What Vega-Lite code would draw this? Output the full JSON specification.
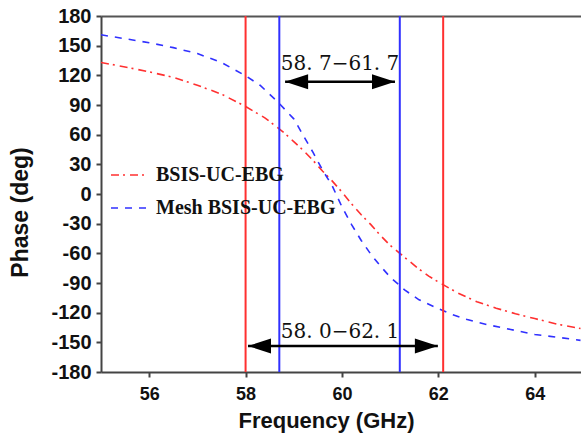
{
  "$schema": "https://vega.github.io/schema/vega-lite/v6.json",
  "width": 480,
  "height": 356,
  "autosize": {"type": "none"},
  "padding": {"left": 101, "top": 16, "right": 0, "bottom": 71},
  "background": "white",
  "config": {
    "view": {"stroke": null},
    "axis": {"grid": false, "domainColor": "#444", "domainWidth": 2, "tickColor": "#444", "tickWidth": 2, "tickSize": 5, "labelColor": "#111", "titleColor": "#111", "labelFont": "Liberation Sans", "titleFont": "Liberation Sans", "labelFontWeight": "bold", "titleFontWeight": "bold", "labelOverlap": false}
  },
  "datasets": {
    "curves": [
      {"freq": 55.0, "phase": 133, "series": "BSIS-UC-EBG"},
      {"freq": 55.5, "phase": 128.5, "series": "BSIS-UC-EBG"},
      {"freq": 56.0, "phase": 123.5, "series": "BSIS-UC-EBG"},
      {"freq": 56.5, "phase": 118, "series": "BSIS-UC-EBG"},
      {"freq": 57.0, "phase": 110, "series": "BSIS-UC-EBG"},
      {"freq": 57.5, "phase": 101, "series": "BSIS-UC-EBG"},
      {"freq": 58.0, "phase": 88.5, "series": "BSIS-UC-EBG"},
      {"freq": 58.4, "phase": 77, "series": "BSIS-UC-EBG"},
      {"freq": 58.8, "phase": 62, "series": "BSIS-UC-EBG"},
      {"freq": 59.0, "phase": 53, "series": "BSIS-UC-EBG"},
      {"freq": 59.2, "phase": 44, "series": "BSIS-UC-EBG"},
      {"freq": 59.4, "phase": 34, "series": "BSIS-UC-EBG"},
      {"freq": 59.6, "phase": 23, "series": "BSIS-UC-EBG"},
      {"freq": 59.8, "phase": 13, "series": "BSIS-UC-EBG"},
      {"freq": 60.0, "phase": 2, "series": "BSIS-UC-EBG"},
      {"freq": 60.2, "phase": -10, "series": "BSIS-UC-EBG"},
      {"freq": 60.4, "phase": -21, "series": "BSIS-UC-EBG"},
      {"freq": 60.6, "phase": -31, "series": "BSIS-UC-EBG"},
      {"freq": 60.8, "phase": -42, "series": "BSIS-UC-EBG"},
      {"freq": 61.0, "phase": -52, "series": "BSIS-UC-EBG"},
      {"freq": 61.2, "phase": -60, "series": "BSIS-UC-EBG"},
      {"freq": 61.4, "phase": -68, "series": "BSIS-UC-EBG"},
      {"freq": 61.6, "phase": -76, "series": "BSIS-UC-EBG"},
      {"freq": 61.8, "phase": -83, "series": "BSIS-UC-EBG"},
      {"freq": 62.0, "phase": -89, "series": "BSIS-UC-EBG"},
      {"freq": 62.4, "phase": -100, "series": "BSIS-UC-EBG"},
      {"freq": 62.8, "phase": -109, "series": "BSIS-UC-EBG"},
      {"freq": 63.2, "phase": -115.5, "series": "BSIS-UC-EBG"},
      {"freq": 63.6, "phase": -121, "series": "BSIS-UC-EBG"},
      {"freq": 64.0, "phase": -126, "series": "BSIS-UC-EBG"},
      {"freq": 64.5, "phase": -132, "series": "BSIS-UC-EBG"},
      {"freq": 64.95, "phase": -136, "series": "BSIS-UC-EBG"},
      {"freq": 55.0, "phase": 161, "series": "Mesh BSIS-UC-EBG"},
      {"freq": 55.5, "phase": 157, "series": "Mesh BSIS-UC-EBG"},
      {"freq": 56.0, "phase": 153, "series": "Mesh BSIS-UC-EBG"},
      {"freq": 56.5, "phase": 148, "series": "Mesh BSIS-UC-EBG"},
      {"freq": 57.0, "phase": 142, "series": "Mesh BSIS-UC-EBG"},
      {"freq": 57.5, "phase": 133, "series": "Mesh BSIS-UC-EBG"},
      {"freq": 58.0, "phase": 119.5, "series": "Mesh BSIS-UC-EBG"},
      {"freq": 58.3, "phase": 110, "series": "Mesh BSIS-UC-EBG"},
      {"freq": 58.65, "phase": 94, "series": "Mesh BSIS-UC-EBG"},
      {"freq": 59.0, "phase": 76, "series": "Mesh BSIS-UC-EBG"},
      {"freq": 59.2, "phase": 59, "series": "Mesh BSIS-UC-EBG"},
      {"freq": 59.4, "phase": 42, "series": "Mesh BSIS-UC-EBG"},
      {"freq": 59.6, "phase": 24, "series": "Mesh BSIS-UC-EBG"},
      {"freq": 59.8, "phase": 8, "series": "Mesh BSIS-UC-EBG"},
      {"freq": 60.0, "phase": -13, "series": "Mesh BSIS-UC-EBG"},
      {"freq": 60.2, "phase": -31, "series": "Mesh BSIS-UC-EBG"},
      {"freq": 60.4, "phase": -47, "series": "Mesh BSIS-UC-EBG"},
      {"freq": 60.6, "phase": -61, "series": "Mesh BSIS-UC-EBG"},
      {"freq": 60.8, "phase": -73, "series": "Mesh BSIS-UC-EBG"},
      {"freq": 61.0, "phase": -84, "series": "Mesh BSIS-UC-EBG"},
      {"freq": 61.3, "phase": -97, "series": "Mesh BSIS-UC-EBG"},
      {"freq": 61.6, "phase": -107, "series": "Mesh BSIS-UC-EBG"},
      {"freq": 62.0, "phase": -116, "series": "Mesh BSIS-UC-EBG"},
      {"freq": 62.3, "phase": -122, "series": "Mesh BSIS-UC-EBG"},
      {"freq": 62.6, "phase": -127, "series": "Mesh BSIS-UC-EBG"},
      {"freq": 63.0, "phase": -132, "series": "Mesh BSIS-UC-EBG"},
      {"freq": 63.5, "phase": -137, "series": "Mesh BSIS-UC-EBG"},
      {"freq": 64.0, "phase": -142, "series": "Mesh BSIS-UC-EBG"},
      {"freq": 64.5, "phase": -145, "series": "Mesh BSIS-UC-EBG"},
      {"freq": 64.95, "phase": -148, "series": "Mesh BSIS-UC-EBG"}
    ],
    "vlines": [
      {"freq": 58.0, "curve": "BSIS-UC-EBG"},
      {"freq": 62.1, "curve": "BSIS-UC-EBG"},
      {"freq": 58.7, "curve": "Mesh BSIS-UC-EBG"},
      {"freq": 61.2, "curve": "Mesh BSIS-UC-EBG"}
    ],
    "arrows": [
      {"start": 58.82, "end": 61.1, "phase": 113.5, "label": "58. 7−61. 7", "labelPhase": 125.4, "mid": 59.96},
      {"start": 58.05, "end": 61.99, "phase": -153.7, "label": "58. 0−62. 1", "labelPhase": -145.6, "mid": 59.96}
    ]
  },
  "resolve": {"axis": {"x": "independent", "y": "independent"}},
  "layer": [
    {
      "data": {"name": "curves"},
      "mark": {"type": "line", "strokeWidth": 1.6, "clip": true},
      "encoding": {
        "x": {"field": "freq", "type": "quantitative", "scale": {"domain": [55, 64.96], "nice": false, "zero": false},
          "axis": {"orient": "bottom", "values": [56, 58, 60, 62, 64], "labelOverlap": false, "labelFontSize": 18, "labelPadding": 8, "title": "Frequency (GHz)", "titleFontSize": 22, "titleX": 225, "titleY": 55, "titleBaseline": "alphabetic", "titleAlign": "center"}},
        "y": {"field": "phase", "type": "quantitative", "scale": {"domain": [-180, 180], "nice": false, "zero": false},
          "axis": {"values": [-180, -150, -120, -90, -60, -30, 0, 30, 60, 90, 120, 150, 180], "labelOverlap": false, "labelBound": false, "labelFontSize": 20, "labelPadding": 5, "labelExpr": "datum.value < 0 ? '-' + abs(datum.value) : '' + datum.value", "title": "Phase (deg)", "titleFontSize": 23, "titleAngle": -90, "titleX": -74, "titleY": 196, "titleBaseline": "alphabetic", "titleAlign": "center"}},
        "color": {"field": "series", "type": "nominal", "scale": {"domain": ["BSIS-UC-EBG", "Mesh BSIS-UC-EBG"], "range": ["#ff3030", "#3030ff"]},
          "legend": {"title": null, "orient": "none", "legendX": 9, "legendY": 152, "padding": 0, "symbolType": "stroke", "symbolSize": 1444, "symbolStrokeWidth": 1.6, "clipHeight": 14, "rowPadding": 13, "labelOffset": 6, "labelFont": "Liberation Serif", "labelFontWeight": "bold", "labelFontSize": 20, "labelColor": "#111", "labelLimit": 400}},
        "strokeDash": {"field": "series", "type": "nominal", "scale": {"domain": ["BSIS-UC-EBG", "Mesh BSIS-UC-EBG"], "range": [[8, 4, 2, 5], [7, 7]]}}
      }
    },
    {
      "data": {"name": "vlines"},
      "transform": [{"filter": "datum.curve == 'BSIS-UC-EBG'"}],
      "mark": {"type": "rule", "color": "#ff3030", "strokeWidth": 2},
      "encoding": {
        "x": {"field": "freq", "type": "quantitative", "axis": {"orient": "top", "labels": false, "ticks": false, "title": null, "domainColor": "#555", "domainWidth": 2}}
      }
    },
    {
      "data": {"name": "vlines"},
      "transform": [{"filter": "datum.curve == 'Mesh BSIS-UC-EBG'"}],
      "mark": {"type": "rule", "color": "#3030ff", "strokeWidth": 2},
      "encoding": {
        "x": {"field": "freq", "type": "quantitative", "axis": null}
      }
    },
    {
      "data": {"name": "arrows"},
      "mark": {"type": "rule", "color": "black", "strokeWidth": 2.5},
      "encoding": {
        "x": {"field": "start", "type": "quantitative", "axis": null},
        "x2": {"field": "end"},
        "y": {"field": "phase", "type": "quantitative", "axis": null}
      }
    },
    {
      "data": {"name": "arrows"},
      "mark": {"type": "point", "shape": "M0,0L2,-0.65L2,0.65Z", "filled": true, "color": "black", "size": 529, "opacity": 1},
      "encoding": {
        "x": {"field": "start", "type": "quantitative", "axis": null},
        "y": {"field": "phase", "type": "quantitative", "axis": null}
      }
    },
    {
      "data": {"name": "arrows"},
      "mark": {"type": "point", "shape": "M0,0L-2,-0.65L-2,0.65Z", "filled": true, "color": "black", "size": 529, "opacity": 1},
      "encoding": {
        "x": {"field": "end", "type": "quantitative", "axis": null},
        "y": {"field": "phase", "type": "quantitative", "axis": null}
      }
    },
    {
      "data": {"name": "arrows"},
      "mark": {"type": "text", "font": "DejaVu Serif", "fontSize": 20, "color": "#111", "align": "center", "baseline": "alphabetic"},
      "encoding": {
        "x": {"field": "mid", "type": "quantitative", "axis": null},
        "y": {"field": "labelPhase", "type": "quantitative", "axis": null},
        "text": {"field": "label"}
      }
    }
  ]
}
